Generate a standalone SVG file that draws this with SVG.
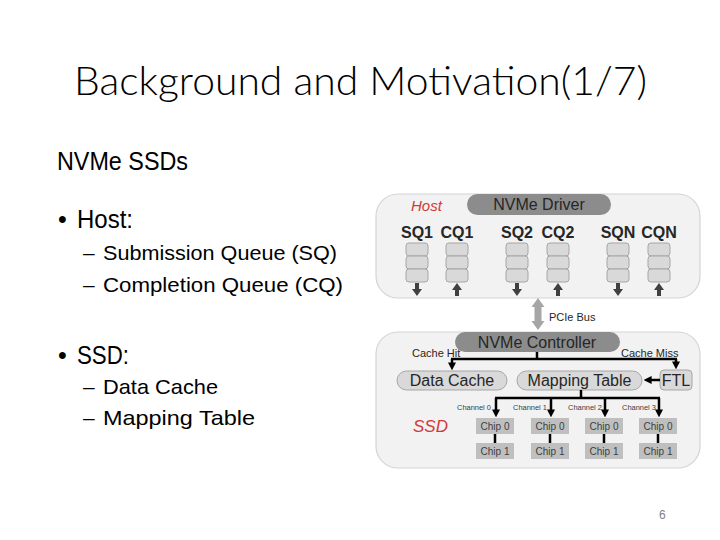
<svg xmlns="http://www.w3.org/2000/svg" width="720" height="540" viewBox="0 0 720 540">
<style>
text{font-family:"Liberation Sans","Noto Sans",Arial,sans-serif;fill:#000}
.title{font-size:40px;font-family:Lato,"Liberation Sans",sans-serif;font-weight:300}
.l1{font-size:25px}
.l2{font-size:21px}
.box{fill:#f2f2f2;stroke:#d4d4d4;stroke-width:1.2}
.dark{fill:#8c8c8c}
.pill{fill:#d9d9d9;stroke:#a6a6a6;stroke-width:1}
.cell{fill:#d9d9d9;stroke:#a6a6a6;stroke-width:1}
.chip{fill:#bfbfbf}
.lbl{font-size:15px;fill:#262626}
.q{font-size:16px;font-weight:bold;fill:#262626}
.sm{font-size:11px;fill:#262626}
.ch{font-size:8px;fill:#404040}
.cp{font-size:10px;fill:#404040}
.red{font-style:italic;fill:#d03a3a}
.wire{fill:none;stroke:#000;stroke-width:2.5}
.qa{fill:#404040}
</style>
<defs>
<marker id="ah" viewBox="0 0 10 10" refX="2" refY="5" markerWidth="8" markerHeight="8" markerUnits="userSpaceOnUse" orient="auto">
<path d="M0,0 L10,5 L0,10 z" fill="#000"/>
</marker>
<path id="down" d="M-2,0 H2 V6 H5 L0,13 L-5,6 H-2 Z"/>
<path id="up" d="M-2,13 H2 V7 H5 L0,0 L-5,7 H-2 Z"/>
</defs>

<g id="slide-text">
<text class="title" x="74" y="95" textLength="573" lengthAdjust="spacingAndGlyphs">Background and Motivation(1/7)</text>
<text class="l1" x="57" y="170" textLength="131" lengthAdjust="spacingAndGlyphs">NVMe SSDs</text>
<text class="l1" x="58" y="228">•</text>
<text class="l1" x="77" y="228" textLength="56" lengthAdjust="spacingAndGlyphs">Host:</text>
<text class="l2" x="83" y="260">–</text>
<text class="l2" x="103" y="260" textLength="234" lengthAdjust="spacingAndGlyphs">Submission Queue (SQ)</text>
<text class="l2" x="83" y="292">–</text>
<text class="l2" x="103" y="292" textLength="240" lengthAdjust="spacingAndGlyphs">Completion Queue (CQ)</text>
<text class="l1" x="58" y="364">•</text>
<text class="l1" x="77" y="364" textLength="52" lengthAdjust="spacingAndGlyphs">SSD:</text>
<text class="l2" x="83" y="394">–</text>
<text class="l2" x="103" y="394" textLength="115" lengthAdjust="spacingAndGlyphs">Data Cache</text>
<text class="l2" x="83" y="425">–</text>
<text class="l2" x="103" y="425" textLength="152" lengthAdjust="spacingAndGlyphs">Mapping Table</text>
<text x="659" y="519" style="font-size:12px;fill:#7f7f7f">6</text>
</g>

<g id="host">
<rect class="box" x="376" y="194" width="324" height="104" rx="22"/>
<text class="red" x="411" y="211" style="font-size:15px">Host</text>
</g>
<g id="nvme-driver">
<rect class="dark" x="467" y="194" width="144" height="21" rx="10.5"/>
<text class="lbl" x="539" y="210" text-anchor="middle" style="font-size:16px">NVMe Driver</text>
</g>

<g id="queues">
<text class="q" x="417" y="238" text-anchor="middle">SQ1</text>
<text class="q" x="457" y="238" text-anchor="middle">CQ1</text>
<text class="q" x="517" y="238" text-anchor="middle">SQ2</text>
<text class="q" x="558" y="238" text-anchor="middle">CQ2</text>
<text class="q" x="618" y="238" text-anchor="middle">SQN</text>
<text class="q" x="659" y="238" text-anchor="middle">CQN</text>
<g id="sq1"><rect class="cell" x="406" y="243" width="22" height="13" rx="3"/><rect class="cell" x="406" y="256" width="22" height="13" rx="3"/><rect class="cell" x="406" y="269" width="22" height="13" rx="3"/></g>
<g id="cq1"><rect class="cell" x="446" y="243" width="22" height="13" rx="3"/><rect class="cell" x="446" y="256" width="22" height="13" rx="3"/><rect class="cell" x="446" y="269" width="22" height="13" rx="3"/></g>
<g id="sq2"><rect class="cell" x="506" y="243" width="22" height="13" rx="3"/><rect class="cell" x="506" y="256" width="22" height="13" rx="3"/><rect class="cell" x="506" y="269" width="22" height="13" rx="3"/></g>
<g id="cq2"><rect class="cell" x="547" y="243" width="22" height="13" rx="3"/><rect class="cell" x="547" y="256" width="22" height="13" rx="3"/><rect class="cell" x="547" y="269" width="22" height="13" rx="3"/></g>
<g id="sqn"><rect class="cell" x="607" y="243" width="22" height="13" rx="3"/><rect class="cell" x="607" y="256" width="22" height="13" rx="3"/><rect class="cell" x="607" y="269" width="22" height="13" rx="3"/></g>
<g id="cqn"><rect class="cell" x="648" y="243" width="22" height="13" rx="3"/><rect class="cell" x="648" y="256" width="22" height="13" rx="3"/><rect class="cell" x="648" y="269" width="22" height="13" rx="3"/></g>
<use href="#down" class="qa" x="417" y="283"/>
<use href="#up" class="qa" x="457" y="283"/>
<use href="#down" class="qa" x="517" y="283"/>
<use href="#up" class="qa" x="558" y="283"/>
<use href="#down" class="qa" x="618" y="283"/>
<use href="#up" class="qa" x="659" y="283"/>
</g>

<g id="pcie">
<polygon points="538,298 544.5,307 541.5,307 541.5,321 544.5,321 538,330 531.5,321 534.5,321 534.5,307 531.5,307" fill="#a6a6a6"/>
<text class="sm" x="549" y="321">PCIe Bus</text>
</g>

<g id="ssd">
<rect class="box" x="376" y="332" width="324" height="136" rx="22"/>
<text class="red" x="413" y="432" style="font-size:17px">SSD</text>
</g>
<g id="nvme-controller">
<rect class="dark" x="455" y="332" width="165" height="20" rx="10"/>
<text class="lbl" x="537" y="348" text-anchor="middle" style="font-size:16px">NVMe Controller</text>
</g>
<g id="data-cache">
<rect class="pill" x="397" y="371" width="110" height="19" rx="9.5"/>
<text class="lbl" x="452" y="386" text-anchor="middle" style="font-size:16px">Data Cache</text>
</g>
<g id="mapping-table">
<rect class="pill" x="517" y="371" width="125" height="19" rx="9.5"/>
<text class="lbl" x="579.5" y="386" text-anchor="middle" style="font-size:16px">Mapping Table</text>
</g>
<g id="ftl">
<rect class="pill" x="660" y="370" width="32" height="20" rx="4"/>
<text class="lbl" x="676" y="386" text-anchor="middle" style="font-size:16px">FTL</text>
</g>
<g id="chips">
<rect class="chip" x="476" y="418" width="38" height="16"/><text class="cp" x="495" y="430" text-anchor="middle">Chip 0</text>
<rect class="chip" x="531" y="418" width="38" height="16"/><text class="cp" x="550" y="430" text-anchor="middle">Chip 0</text>
<rect class="chip" x="585" y="418" width="38" height="16"/><text class="cp" x="604" y="430" text-anchor="middle">Chip 0</text>
<rect class="chip" x="639" y="418" width="38" height="16"/><text class="cp" x="658" y="430" text-anchor="middle">Chip 0</text>
<rect class="chip" x="476" y="443" width="38" height="16"/><text class="cp" x="495" y="455" text-anchor="middle">Chip 1</text>
<rect class="chip" x="531" y="443" width="38" height="16"/><text class="cp" x="550" y="455" text-anchor="middle">Chip 1</text>
<rect class="chip" x="585" y="443" width="38" height="16"/><text class="cp" x="604" y="455" text-anchor="middle">Chip 1</text>
<rect class="chip" x="639" y="443" width="38" height="16"/><text class="cp" x="658" y="455" text-anchor="middle">Chip 1</text>
</g>

<g id="connectors">
<path class="wire" d="M537,352 V359 M451,359 H677"/>
<path class="wire" d="M452,359 V364" marker-end="url(#ah)"/>
<path class="wire" d="M676,359 V363" marker-end="url(#ah)"/>
<path class="wire" d="M660,380 H650" marker-end="url(#ah)"/>
<path class="wire" d="M581,390 V398 M495,398 H660"/>
<path class="wire" d="M496,398 V411" marker-end="url(#ah)"/>
<path class="wire" d="M551,398 V411" marker-end="url(#ah)"/>
<path class="wire" d="M605,398 V411" marker-end="url(#ah)"/>
<path class="wire" d="M659,398 V411" marker-end="url(#ah)"/>
<path class="wire" d="M495,434 V443 M550,434 V443 M604,434 V443 M658,434 V443"/>
<text class="sm" x="412" y="357">Cache Hit</text>
<text class="sm" x="621" y="357">Cache Miss</text>
<text class="ch" x="457" y="410" textLength="34" lengthAdjust="spacingAndGlyphs">Channel 0</text>
<text class="ch" x="513" y="410" textLength="34" lengthAdjust="spacingAndGlyphs">Channel 1</text>
<text class="ch" x="568" y="410" textLength="34" lengthAdjust="spacingAndGlyphs">Channel 2</text>
<text class="ch" x="622" y="410" textLength="34" lengthAdjust="spacingAndGlyphs">Channel 3</text>
</g>
</svg>
